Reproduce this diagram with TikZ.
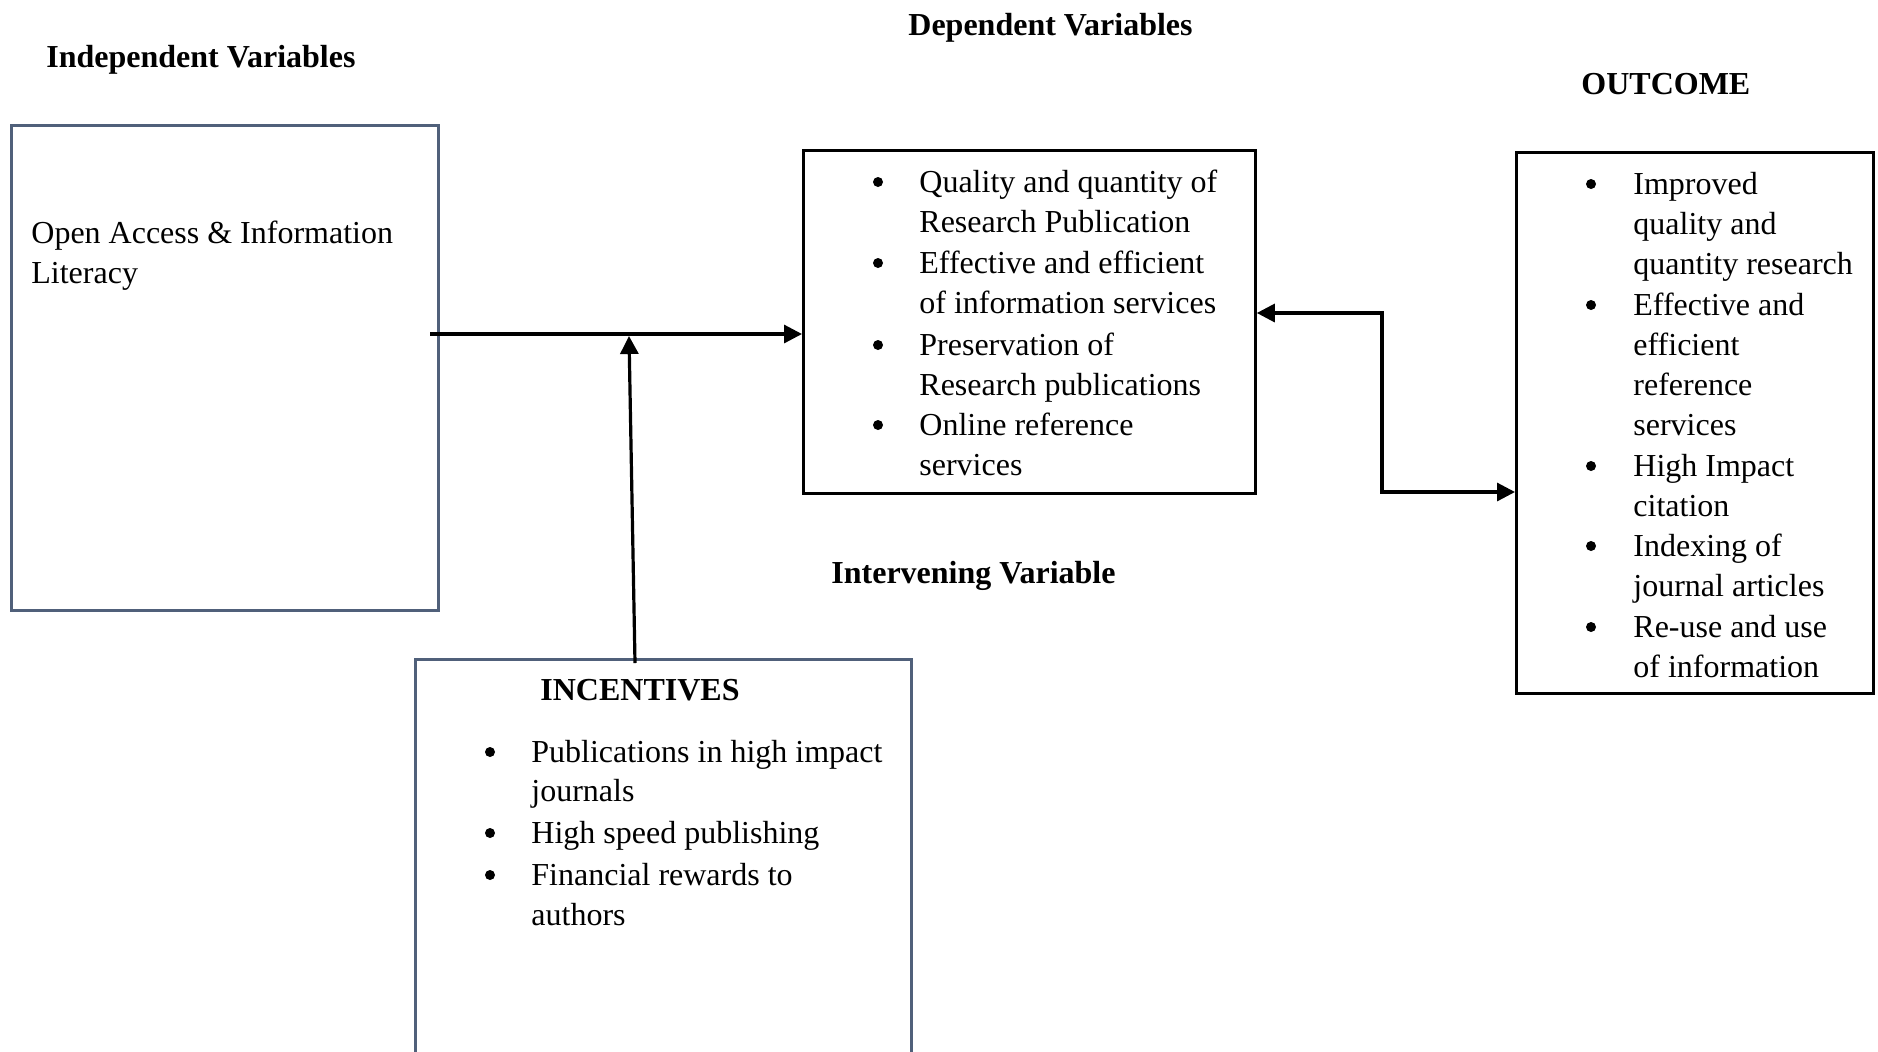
\documentclass[tikz,border=0pt]{standalone}
\usepackage{fontspec}
\setmainfont{Liberation Serif}
\usetikzlibrary{arrows.meta}
\definecolor{slate}{RGB}{80,96,122}
\newcommand\ltext[4]{\node[txt] (#1) at (#2,#3) {#4};}
\newcommand\lbul[3]{\node[bul] (#1) at ([yshift=5pt]#2,#3) {};}
\newcommand\lhdr[4]{\node[hdr] (#1) at (#2,#3) {#4};}
\begin{document}
\begin{tikzpicture}[x=0.5pt,y=-0.5pt,
  txt/.style={anchor=base west,inner sep=0pt,font=\fontsize{16pt}{20pt}\selectfont},
  hdr/.style={txt,font=\fontsize{16pt}{20pt}\selectfont\bfseries},
  bul/.style={circle,fill=black,draw=none,inner sep=0pt,minimum size=5pt,anchor=center},
  box/.style={draw,line width=1.4pt,inner sep=0pt,anchor=north west},
  arr/.style={line width=1.6pt,-{Triangle[length=9pt,width=9pt]}},
  darr/.style={line width=1.6pt,{Triangle[length=9pt,width=9pt]}-{Triangle[length=9pt,width=9pt]}}]
\clip (0,0) rectangle (1878,1051);
\fill[white] (0,0) rectangle (1878,1051);

% headers
\lhdr{hiv}{46}{67}{Independent Variables}
\lhdr{hdv}{908}{35}{Dependent Variables}
\lhdr{hout}{1581}{94}{OUTCOME}
\lhdr{hint}{831}{583}{Intervening Variable}

% boxes
\node[box,draw=slate,minimum width=213.5pt,minimum height=242.5pt] (iv) at (10,124) {};
\node[box,draw=black,minimum width=226pt,minimum height=171.5pt] (dv) at (802,149) {};
\node[box,draw=black,minimum width=178.5pt,minimum height=270.5pt] (out) at (1515,151) {};
\node[box,draw=slate,minimum width=248pt,minimum height=206pt] (inc) at (414,658) {};

% independent box text
\ltext{iv1}{31}{243}{Open Access \& Information}
\ltext{iv2}{31}{283}{Literacy}

% dependent box text
\lbul{db1}{878}{192}
\ltext{d1a}{919}{192}{Quality and quantity of}
\ltext{d1b}{919}{232}{Research Publication}
\lbul{db2}{878}{273}
\ltext{d2a}{919}{273}{Effective and efficient}
\ltext{d2b}{919}{313}{of information services}
\lbul{db3}{878}{355}
\ltext{d3a}{919}{355}{Preservation of}
\ltext{d3b}{919}{395}{Research publications}
\lbul{db4}{878}{435}
\ltext{d4a}{919}{435}{Online reference}
\ltext{d4b}{919}{475}{services}

% outcome box text
\lbul{ob1}{1591}{194}
\ltext{o1a}{1633}{194}{Improved}
\ltext{o1b}{1633}{234}{quality and}
\ltext{o1c}{1633}{274}{quantity research}
\lbul{ob2}{1591}{315}
\ltext{o2a}{1633}{315}{Effective and}
\ltext{o2b}{1633}{355}{efficient}
\ltext{o2c}{1633}{395}{reference}
\ltext{o2d}{1633}{435}{services}
\lbul{ob3}{1591}{476}
\ltext{o3a}{1633}{476}{High Impact}
\ltext{o3b}{1633}{516}{citation}
\lbul{ob4}{1591}{556}
\ltext{o4a}{1633}{556}{Indexing of}
\ltext{o4b}{1633}{596}{journal articles}
\lbul{ob5}{1591}{637}
\ltext{o5a}{1633}{637}{Re-use and use}
\ltext{o5b}{1633}{677}{of information}

% incentives box text
\lhdr{inct}{540}{700}{INCENTIVES}
\lbul{ib1}{490}{762}
\ltext{i1a}{531}{762}{Publications in high impact}
\ltext{i1b}{531}{801}{journals}
\lbul{ib2}{490}{843}
\ltext{i2a}{531}{843}{High speed publishing}
\lbul{ib3}{490}{885}
\ltext{i3a}{531}{885}{Financial rewards to}
\ltext{i3b}{531}{925}{authors}

% connectors
\coordinate (a1) at (430,334);
\draw[arr] (a1) -- (a1 -| dv.west);
\coordinate (b1) at (635,663);
\coordinate (b2) at (629,336);
\draw[arr] (b1) -- (b2);
\coordinate (e1) at (1382,313);
\coordinate (e2) at (1382,492);
\draw[darr] (e1 -| dv.east) -- (e1) -- (e2) -- (e2 -| out.west);
\end{tikzpicture}
\end{document}
